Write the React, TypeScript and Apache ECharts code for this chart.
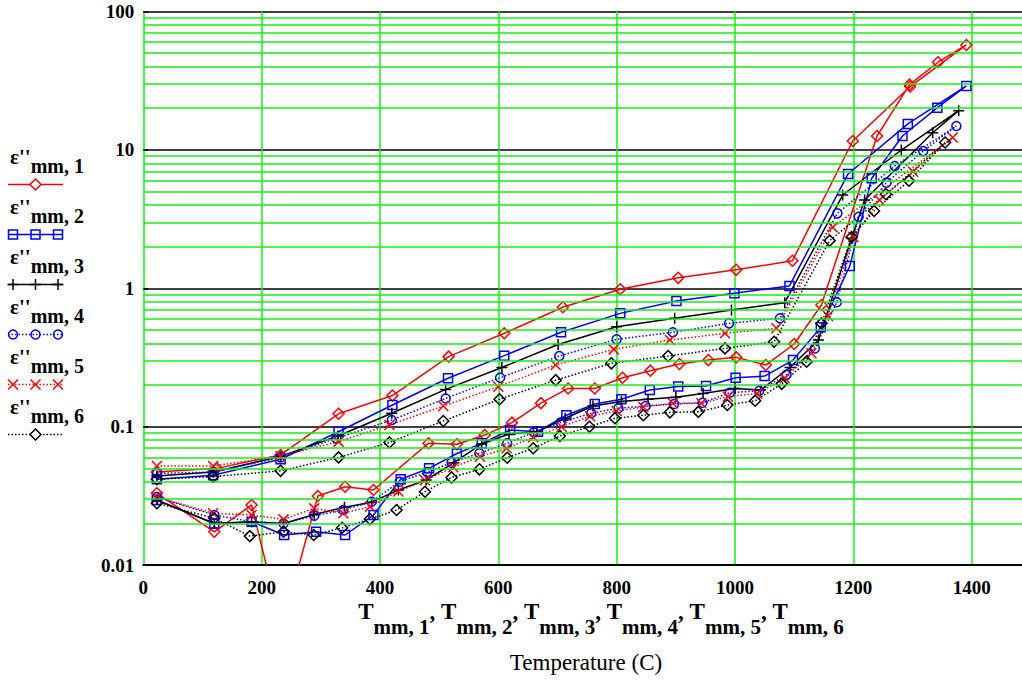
import React, { useEffect, useRef } from "react";
import * as echarts from "echarts";

const FONT = "'Liberation Serif', 'Times New Roman', serif";
const GREEN = "#14ee14";

// ---- data: heating branch (T, value) and return branch (T, value) per series ----
const s1HeatT = [23, 124, 232, 330, 421, 516, 610, 709, 806, 904, 1002, 1097, 1199, 1296, 1391];
const s1HeatV = [0.047, 0.05, 0.0625, 0.124, 0.168, 0.321, 0.473, 0.73, 0.984, 1.19, 1.36, 1.58, 11.6, 28.7, 57.3];
const s1CoolT = [1343, 1295, 1240, 1146, 1100, 1052, 1002, 955, 906, 857, 810, 763, 718, 672, 623, 577, 530, 482, 389, 341, 295, 234, 183, 120, 23];
const s1CoolV = [43, 29.6, 12.6, 0.757, 0.396, 0.279, 0.317, 0.303, 0.284, 0.254, 0.226, 0.189, 0.189, 0.148, 0.107, 0.087, 0.0747, 0.076, 0.0349, 0.0368, 0.0316, 0.0035, 0.0272, 0.0174, 0.033];

const s2HeatT = [23, 118, 232, 330, 421, 515, 610, 706, 806, 901, 999, 1092, 1191, 1292, 1391];
const s2HeatV = [0.0417, 0.0446, 0.0582, 0.092, 0.1435, 0.224, 0.326, 0.481, 0.659, 0.809, 0.92, 1.04, 6.7, 15.4, 29.0];
const s2CoolT = [1342, 1283, 1231, 1194, 1145, 1098, 1050, 1001, 951, 904, 856, 808, 763, 715, 667, 620, 572, 530, 483, 435, 389, 341, 292, 238, 183, 120, 23];
const s2CoolV = [20.2, 12.6, 6.24, 1.45, 0.522, 0.303, 0.232, 0.226, 0.197, 0.195, 0.184, 0.158, 0.146, 0.121, 0.092, 0.0946, 0.0758, 0.064, 0.05, 0.0417, 0.023, 0.0165, 0.0174, 0.0165, 0.0206, 0.02, 0.0295];

const s3HeatT = [23, 118, 232, 329, 420, 511, 606, 701, 800, 898, 994, 1084, 1182, 1281, 1378];
const s3HeatV = [0.044, 0.047, 0.061, 0.0857, 0.125, 0.186, 0.268, 0.393, 0.528, 0.607, 0.697, 0.787, 4.72, 9.98, 19.2];
const s3CoolT = [1334, 1219, 1197, 1141, 1093, 1043, 1000, 946, 900, 853, 808, 760, 713, 665, 618, 572, 525, 478, 431, 386, 340, 289, 237, 183, 120, 23];
const s3CoolV = [13.3, 4.35, 2.3, 0.423, 0.268, 0.184, 0.189, 0.174, 0.163, 0.158, 0.152, 0.141, 0.115, 0.092, 0.0885, 0.075, 0.055, 0.0412, 0.0349, 0.0285, 0.0262, 0.0232, 0.02, 0.0205, 0.02, 0.0295];

const s4HeatT = [23, 118, 232, 326, 420, 511, 603, 703, 800, 895, 990, 1076, 1173, 1270, 1374];
const s4HeatV = [0.046, 0.047, 0.06, 0.0824, 0.1117, 0.16, 0.226, 0.324, 0.428, 0.481, 0.558, 0.607, 3.48, 7.65, 14.9];
const s4CoolT = [1318, 1256, 1209, 1172, 1135, 1087, 1041, 991, 945, 897, 849, 803, 757, 705, 660, 615, 568, 521, 480, 433, 386, 338, 289, 237, 183, 120, 23];
const s4CoolV = [9.8, 5.8, 3.29, 0.792, 0.368, 0.237, 0.182, 0.176, 0.149, 0.146, 0.141, 0.136, 0.125, 0.107, 0.091, 0.0758, 0.0643, 0.055, 0.047, 0.04, 0.0287, 0.025, 0.0227, 0.02, 0.0206, 0.023, 0.031];

const s5HeatT = [23, 118, 232, 330, 416, 507, 600, 697, 795, 890, 983, 1070, 1165, 1368];
const s5HeatV = [0.052, 0.052, 0.0615, 0.078, 0.103, 0.141, 0.1945, 0.279, 0.362, 0.423, 0.473, 0.514, 2.76, 12.3];
const s5CoolT = [1301, 1244, 1200, 1157, 1129, 1084, 1037, 988, 943, 895, 845, 800, 755, 707, 659, 614, 569, 524, 476, 431, 383, 338, 289, 237, 183, 118, 23];
const s5CoolV = [6.95, 4.35, 2.35, 0.63, 0.339, 0.224, 0.174, 0.165, 0.1475, 0.1475, 0.139, 0.13, 0.119, 0.1, 0.0838, 0.0698, 0.0607, 0.051, 0.041, 0.034, 0.0264, 0.0237, 0.0257, 0.0214, 0.023, 0.0237, 0.031];

const s6HeatT = [23, 118, 232, 330, 416, 507, 602, 697, 791, 887, 983, 1066, 1160, 1255, 1355];
const s6HeatV = [0.0417, 0.0436, 0.048, 0.06, 0.077, 0.11, 0.158, 0.217, 0.287, 0.324, 0.368, 0.411, 2.21, 4.78, 11.3];
const s6CoolT = [1294, 1235, 1197, 1146, 1121, 1079, 1034, 987, 938, 890, 845, 797, 754, 704, 659, 615, 568, 521, 476, 428, 383, 336, 288, 237, 180, 120, 23];
const s6CoolV = [5.98, 3.62, 2.35, 0.558, 0.295, 0.204, 0.154, 0.1435, 0.128, 0.127, 0.121, 0.115, 0.1, 0.0857, 0.0698, 0.0597, 0.0492, 0.043, 0.0339, 0.025, 0.0215, 0.0186, 0.0165, 0.0174, 0.0162, 0.0218, 0.028];

const seriesNames = ["1", "2", "3", "4", "5", "6"];
const xTicks = { min: 0, max: 1485, interval: 200 };
const yRange = { min: 0.01, max: 100 };
const decades = [0.01, 0.1, 1, 10];
const minorMultipliers = [2, 3, 4, 5, 6, 7, 8, 9];

const pairs = (t: number[], v: number[]) => t.map((x, i) => [x, v[i]]);

const PLUS = "path://M5,0L5,10M0,5L10,5";
const CROSS = "path://M0,0L10,10M10,0L0,10";

const defs = [
  { name: seriesNames[0], data: [...pairs(s1HeatT, s1HeatV), ...pairs(s1CoolT, s1CoolV)], color: "#ff0000", dotted: false, symbol: "diamond", size: 11, kind: "diamond", count: 1 },
  { name: seriesNames[1], data: [...pairs(s2HeatT, s2HeatV), ...pairs(s2CoolT, s2CoolV)], color: "#0000ff", dotted: false, symbol: "rect", size: 9, kind: "rect", count: 3 },
  { name: seriesNames[2], data: [...pairs(s3HeatT, s3HeatV), ...pairs(s3CoolT, s3CoolV)], color: "#000000", dotted: false, symbol: PLUS, size: 11, kind: "plus", count: 3 },
  { name: seriesNames[3], data: [...pairs(s4HeatT, s4HeatV), ...pairs(s4CoolT, s4CoolV)], color: "#0000ff", dotted: true, symbol: "circle", size: 9, kind: "circle", count: 3 },
  { name: seriesNames[4], data: [...pairs(s5HeatT, s5HeatV), ...pairs(s5CoolT, s5CoolV)], color: "#ff0000", dotted: true, symbol: CROSS, size: 10, kind: "cross", count: 3 },
  { name: seriesNames[5], data: [...pairs(s6HeatT, s6HeatV), ...pairs(s6CoolT, s6CoolV)], color: "#000000", dotted: true, symbol: "diamond", size: 11, kind: "diamond", count: 1 },
];

function markerGraphic(kind: string, cx: number, cy: number, color: string): any[] {
  const st = { stroke: color, lineWidth: 1.5, fill: "none" };
  if (kind === "diamond")
    return [{ type: "polygon", shape: { points: [[cx, cy - 5.5], [cx + 5.5, cy], [cx, cy + 5.5], [cx - 5.5, cy]] }, style: { ...st, fill: "#fff" } }];
  if (kind === "rect") return [{ type: "rect", shape: { x: cx - 4.5, y: cy - 4.5, width: 9, height: 9 }, style: st }];
  if (kind === "circle") return [{ type: "circle", shape: { cx, cy, r: 4.5 }, style: st }];
  if (kind === "plus")
    return [
      { type: "line", shape: { x1: cx - 5.5, y1: cy, x2: cx + 5.5, y2: cy }, style: st },
      { type: "line", shape: { x1: cx, y1: cy - 5.5, x2: cx, y2: cy + 5.5 }, style: st },
    ];
  return [
    { type: "line", shape: { x1: cx - 5, y1: cy - 5, x2: cx + 5, y2: cy + 5 }, style: st },
    { type: "line", shape: { x1: cx + 5, y1: cy - 5, x2: cx - 5, y2: cy + 5 }, style: st },
  ];
}

export default function App() {
  const ref = useRef<HTMLDivElement>(null);
  useEffect(() => {
    if (!ref.current) return;
    const chart = echarts.init(ref.current, undefined, { renderer: "svg" });

    const minorLines: any[] = [];
    decades.forEach((d) => minorMultipliers.forEach((m) => minorLines.push({ yAxis: +(d * m).toPrecision(3) })));

    const graphic: any[] = [];
    defs.forEach((d, i) => {
      const sy = 184.5 + 50 * i;
      graphic.push({
        type: "text",
        x: 10,
        y: sy - 38.5,
        style: {
          text: `{e|ε''}{s|mm, ${d.name}}`,
          textAlign: "left",
          textVerticalAlign: "top",
          fill: "#000",
          rich: {
            e: { fontFamily: FONT, fontWeight: "bold", fontSize: 21, fill: "#000", verticalAlign: "top", padding: [0, 0, 9, 0] },
            s: { fontFamily: FONT, fontWeight: "bold", fontSize: 20, fill: "#000", verticalAlign: "bottom" },
          },
        },
      });
      graphic.push({
        type: "line",
        shape: { x1: 8, y1: sy, x2: 63, y2: sy },
        style: { stroke: d.color, lineWidth: 1.5, lineDash: d.dotted ? [1.5, 2] : null },
      });
      const xs = d.count === 1 ? [35.5] : [13, 35.5, 58];
      xs.forEach((cx) => markerGraphic(d.kind, cx, sy, d.color).forEach((g) => graphic.push(g)));
    });

    const nameParts = seriesNames.map((n, i) => `{T|T}{s|mm, ${n}}` + (i < seriesNames.length - 1 ? "{c|, }" : "")).join("");
    graphic.push({
      type: "text",
      x: 601,
      y: 600,
      style: {
        text: nameParts,
        textAlign: "center",
        textVerticalAlign: "top",
        fill: "#000",
        rich: {
          T: { fontFamily: FONT, fontWeight: "bold", fontSize: 23, fill: "#000", verticalAlign: "top", padding: [0, 0, 14, 0] },
          c: { fontFamily: FONT, fontWeight: "bold", fontSize: 23, fill: "#000", verticalAlign: "top", padding: [0, 0, 14, 0] },
          s: { fontFamily: FONT, fontWeight: "bold", fontSize: 21, fill: "#000", verticalAlign: "bottom" },
        },
      },
    });
    graphic.push({
      type: "text",
      x: 586,
      y: 662,
      style: { text: "Temperature (C)", textAlign: "center", textVerticalAlign: "middle", fill: "#000", fontFamily: FONT, fontSize: 23 },
    });

    const series: any[] = [
      {
        type: "line",
        data: [],
        z: 1,
        silent: true,
        markLine: {
          silent: true,
          symbol: ["none", "none"],
          label: { show: false },
          lineStyle: { color: GREEN, width: 1.5, type: "solid" },
          data: minorLines,
        },
      },
    ];
    defs.forEach((d) => {
      series.push({
        type: "line",
        name: d.name,
        data: d.data,
        z: 3,
        clip: true,
        symbol: d.symbol,
        symbolSize: d.size,
        showAllSymbol: true,
        lineStyle: { color: d.color, width: 1.5, type: d.dotted ? [1.5, 2] : "solid" },
        itemStyle: { color: "transparent", borderColor: d.color, borderWidth: 1.5 },
        emphasis: { disabled: true },
      });
    });

    chart.setOption({
      animation: false,
      backgroundColor: "#ffffff",
      grid: { left: 143.3, top: 11.5, right: 0, height: 553.6 },
      xAxis: {
        type: "value",
        min: xTicks.min,
        max: xTicks.max,
        interval: xTicks.interval,
        axisLine: { show: true, onZero: false, lineStyle: { color: "#000", width: 2 } },
        axisTick: { show: false },
        axisLabel: {
          color: "#000",
          fontFamily: FONT,
          fontWeight: "bold",
          fontSize: 19,
          margin: 13,
          showMaxLabel: false,
          formatter: (v: number) => String(v),
        },
        splitLine: { show: true, showMaxLine: false, lineStyle: { color: GREEN, width: 1.5 } },
      },
      yAxis: {
        type: "log",
        logBase: 10,
        min: yRange.min,
        max: yRange.max,
        axisLine: { show: false },
        axisTick: { show: true, inside: true, length: 5, lineStyle: { color: "#000", width: 1.5 } },
        axisLabel: {
          color: "#000",
          fontFamily: FONT,
          fontWeight: "bold",
          fontSize: 19,
          margin: 9,
          formatter: (v: number) => String(+Number(v).toPrecision(3)),
        },
        splitLine: { show: true, lineStyle: { color: "#000", width: 1.5 } },
      },
      graphic,
      series,
    });
    return () => chart.dispose();
  }, []);
  return <div ref={ref} style={{ position: "fixed", left: 0, top: 0, width: 1022, height: 680, background: "#fff" }} />;
}
